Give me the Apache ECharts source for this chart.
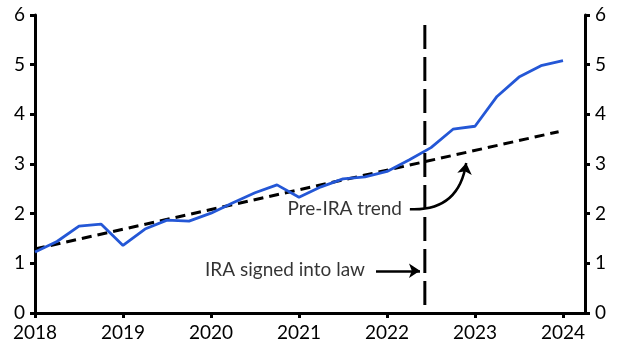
<!DOCTYPE html>
<html>
<head>
<meta charset="utf-8">
<script src="https://cdn.jsdelivr.net/npm/echarts@6/dist/echarts.min.js"></script>
<style>
html,body{margin:0;padding:0;background:#fff;}
#chart{width:628px;height:357px;}
</style>
</head>
<body>
<div id="chart"></div>
<script>
// Quarterly time points (decimal years)
const quarters = [2018.00,2018.25,2018.50,2018.75,2019.00,2019.25,2019.50,2019.75,
  2020.00,2020.25,2020.50,2020.75,2021.00,2021.25,2021.50,2021.75,
  2022.00,2022.25,2022.50,2022.75,2023.00,2023.25,2023.50,2023.75,2024.00];
const actualValues = [1.23,1.44,1.75,1.79,1.36,1.69,1.87,1.85,
  2.01,2.22,2.42,2.58,2.33,2.54,2.70,2.74,
  2.85,3.08,3.33,3.70,3.76,4.36,4.75,4.98,5.08];
const trendX = [2018.00, 2023.95];
const trendValues = [1.29, 3.65];
const iraDate = 2022.43;
const iraLineRange = [5.8, 0];
const xTickLabels = ['2018','2019','2020','2021','2022','2023','2024'];
const annotationTexts = ['Pre-IRA trend', 'IRA signed into law'];
const annotationPoints = [[2022.17, 2.09], [2021.75, 0.86]];
const lawArrow = [[2021.875, 0.85], [2022.375, 0.85]];
const trendArrow = [[2022.26, 2.09], [2022.90, 3.02]];

const FONT = 'Lato';
const FS = 19;
const chart = echarts.init(document.getElementById('chart'), null, {renderer:'canvas'});
const axisLabelStyle = {color:'#000', fontFamily:FONT, fontSize:FS};
const yAxisBase = {
  type:'value', min:0, max:6, interval:1,
  axisLine:{show:true, lineStyle:{color:'#000', width:3}},
  axisTick:{show:true, length:5, lineStyle:{color:'#000', width:3}},
  splitLine:{show:false},
};
const option = {
  animation:false,
  grid:{left:35, right:43, top:15, bottom:44, containLabel:false},
  xAxis:{
    type:'value', min:2018, max:2024.25, interval:1,
    axisLine:{show:true, onZero:false, lineStyle:{color:'#000', width:3}},
    axisTick:{show:true, length:5, lineStyle:{color:'#000', width:3}},
    splitLine:{show:false},
    axisLabel:Object.assign({margin:10, showMaxLabel:false,
      formatter:(v)=>{const i=Math.round(v-2018); return (Math.abs(v-2018-i)<1e-6 && xTickLabels[i])?xTickLabels[i]:'';}}, axisLabelStyle)
  },
  yAxis:[
    Object.assign({position:'left', axisLabel:Object.assign({margin:10}, axisLabelStyle)}, yAxisBase),
    Object.assign({position:'right', axisLabel:Object.assign({margin:10}, axisLabelStyle)}, yAxisBase)
  ],
  series:[
    {
      type:'line', name:'Pre-IRA trend', data:trendX.map((x,i)=>[x,trendValues[i]]),
      symbol:'none', lineStyle:{color:'#000', width:3, type:[10,6]}, z:3
    },
    {
      type:'line', name:'Actual', data:quarters.map((x,i)=>[x,actualValues[i]]),
      symbol:'none', lineStyle:{color:'#2457d6', width:2.8}, z:4
    },
    {
      type:'line', name:'IRA', data:iraLineRange.map(v=>[iraDate,v]),
      symbol:'none', lineStyle:{color:'#000', width:3, type:[24,8]}, z:5
    },
    {
      type:'lines', coordinateSystem:'cartesian2d', silent:true, z:6,
      symbol:['none','arrow'], symbolSize:11,
      data:[
        {coords:lawArrow, lineStyle:{curveness:0}},
        {coords:trendArrow, lineStyle:{curveness:-0.45}}
      ],
      lineStyle:{color:'#000', width:2.5, opacity:1, type:'solid'}
    },
    {
      type:'scatter', symbolSize:0, silent:true,
      data:annotationPoints.map((p,i)=>({value:p, name:annotationTexts[i]})),
      label:{show:true, position:'left', distance:0, formatter:p=>p.name,
        color:'#000', fontFamily:FONT, fontSize:FS}
    }
  ]
};
chart.setOption(option);
</script>
</body>
</html>
